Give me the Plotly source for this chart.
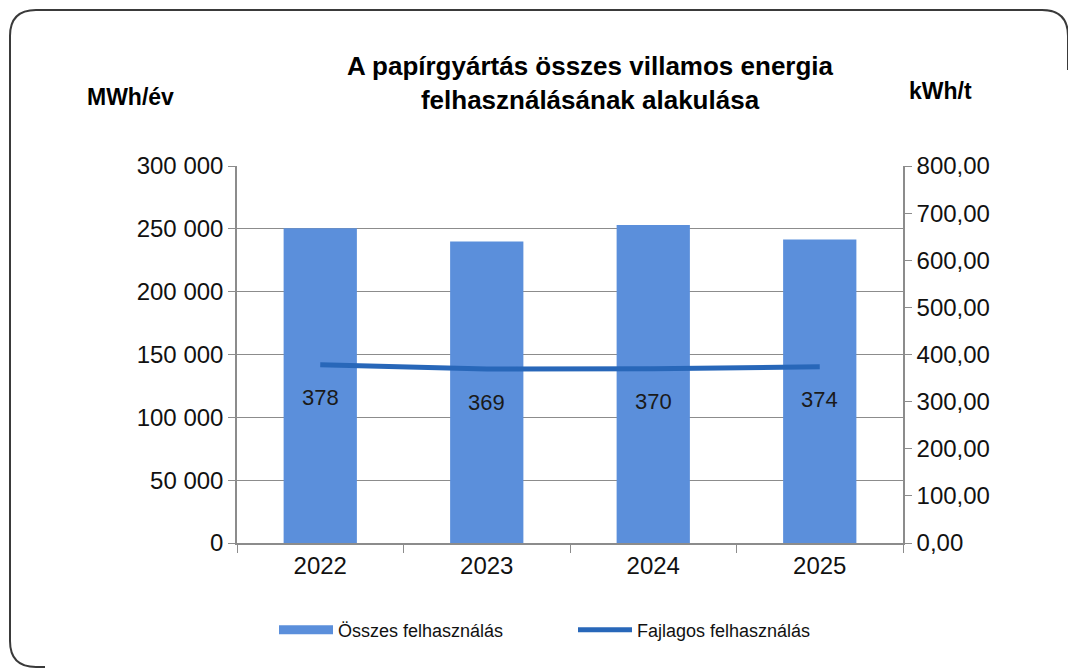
import plotly.graph_objects as go

years = ["2022", "2023", "2024", "2025"]
total_mwh = [250500, 240000, 253000, 241500]
specific_kwh = [378, 369, 370, 374]

# page is offset by the browser's 8px body margin
OFF = 8
W, H = 1076 - OFF, 668 - OFF
# plot area in page pixels: x 237..903, y 166..543
L, R, T, B = 237 - OFF, 1076 - 903, 166 - OFF, 668 - 543
PW, PH = W - L - R, H - T - B

def px(x):  # page pixel -> paper
    return (x - OFF - L) / PW

def py(y):
    return (H - B - (y - OFF)) / PH

FONT = "Liberation Sans, Arial, sans-serif"
BAR_C = "#5B8FDB"
LINE_C = "#2867B9"
GRID_C = "#8C8C8C"

fig = go.Figure()
fig.add_trace(go.Bar(
    x=years, y=total_mwh, name="Összes felhasználás", showlegend=False,
    marker=dict(color=BAR_C, line=dict(width=0)), yaxis="y",
))
# legend swatch for the bars (drawn as a thick bar-coloured line like the original)
fig.add_trace(go.Scatter(
    x=[None], y=[None], name="Összes felhasználás", mode="lines",
    line=dict(color=BAR_C, width=9), yaxis="y",
))
fig.add_trace(go.Scatter(
    x=years, y=specific_kwh, name="Fajlagos felhasználás",
    mode="lines", line=dict(color=LINE_C, width=5), yaxis="y2",
))

annotations = []
for i, v in enumerate(specific_kwh):
    annotations.append(dict(x=i, y=v, xref="x", yref="y2", yshift=-33,
                            text=str(v), showarrow=False,
                            font=dict(family=FONT, size=22, color="#1a1a1a")))

annotations.append(dict(x=px(590), y=py(83), xref="paper", yref="paper",
                        text="<b>A papírgyártás összes villamos energia<br>felhasználásának alakulása</b>",
                        showarrow=False, xanchor="center", yanchor="middle",
                        font=dict(family=FONT, size=26, color="#000")))
annotations.append(dict(x=px(130), y=py(97), xref="paper", yref="paper",
                        text="<b>MWh/év</b>", showarrow=False,
                        xanchor="center", yanchor="middle",
                        font=dict(family=FONT, size=23, color="#000")))
annotations.append(dict(x=px(940), y=py(91), xref="paper", yref="paper",
                        text="<b>kWh/t</b>", showarrow=False,
                        xanchor="center", yanchor="middle",
                        font=dict(family=FONT, size=23, color="#000")))

# rounded border (open at the faded right/bottom edges, as in the scan)
x0, x1 = px(10), px(1068)
y0, y1 = py(10), py(667)
rx, ry = 26 / PW, 26 / PH
path = (f"M {x1},{py(70)} L {x1},{y0-ry} Q {x1},{y0} {x1-rx},{y0} "
        f"L {x0+rx},{y0} Q {x0},{y0} {x0},{y0-ry} "
        f"L {x0},{y1+ry} Q {x0},{y1} {x0+rx},{y1} L {px(45)},{y1}")

fig.update_layout(
    width=W, height=H,
    margin=dict(l=L, r=R, t=T, b=B),
    paper_bgcolor="white", plot_bgcolor="white",
    separators=", ",
    bargap=0.56,
    showlegend=True,
    legend=dict(orientation="h", x=px(274), y=py(630), xanchor="left", yanchor="middle",
                font=dict(family=FONT, size=18, color="#111"),
                itemwidth=54, entrywidth=230, bgcolor="rgba(0,0,0,0)"),
    annotations=annotations,
    shapes=[dict(type="path", path=path, xref="paper", yref="paper",
                 line=dict(color="#3a3a3a", width=2), layer="below")],
    xaxis=dict(type="category", range=[-0.5, len(years) - 0.5], tickson="boundaries",
               ticks="outside", ticklen=8, tickangle=0,
               tickcolor=GRID_C, showline=True, linecolor=GRID_C, linewidth=1.5,
               tickfont=dict(family=FONT, size=24, color="#111"), showgrid=False),
    yaxis=dict(range=[0, 300000], dtick=50000, tickformat=",d", ticks="outside",
               ticklen=7, tickcolor=GRID_C, showline=True, linecolor=GRID_C,
               linewidth=1.5, gridcolor=GRID_C, gridwidth=1, zeroline=False,
               tickfont=dict(family=FONT, size=24, color="#111")),
    yaxis2=dict(range=[0, 800], dtick=100, tickformat=".2f", overlaying="y",
                side="right", ticks="outside", ticklen=7, tickcolor=GRID_C,
                showline=True, linecolor=GRID_C, linewidth=1.5, showgrid=False,
                zeroline=False, tickfont=dict(family=FONT, size=24, color="#111")),
)

fig.write_html("out.html")
